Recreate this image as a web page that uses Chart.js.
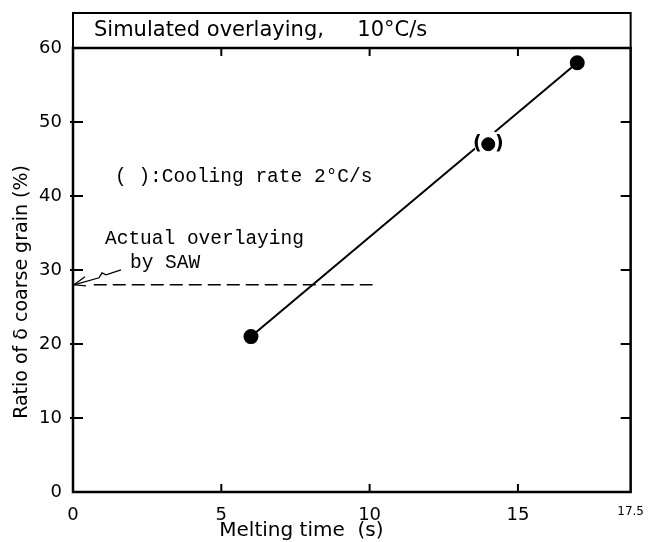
<!DOCTYPE html>
<html>
<head>
<meta charset="utf-8">
<script src="https://cdn.jsdelivr.net/npm/chart.js@4"></script>
<style>
  html, body { margin: 0; padding: 0; background: #fff; }
  canvas { display: block; }
</style>
</head>
<body>
<canvas id="chart" width="649" height="542"></canvas>
<script>
// data
const meltingTime = [6, 17];
const coarseRatio = [21, 58];
const slowCoolTime = [14];      // cooling rate 2 C/s, shown in ( )
const slowCoolRatio = [47];
const sawRatio = 28;            // actual overlaying by SAW
const sawTimeRange = [0.7, 10.1];

const yTicks = [0, 10, 20, 30, 40, 50, 60];
const xTicks = [0, 5, 10, 15, 18.8];
const xTickLabels = ["0", "5", "10", "15", "17.5"];

const titleText = "Simulated overlaying,     10\u00b0C/s";
const noteText = "( ):Cooling rate 2\u00b0C/s";
const sawText = ["Actual overlaying", "by SAW"];
const xTitle = "Melting time  (s)";
const yTitle = "Ratio of \u03b4 coarse grain (%)";

const sansFont = "'DejaVu Sans', sans-serif";
const monoFont = "'Liberation Mono', monospace";

const frameAndNotes = {
  id: "frameAndNotes",
  afterDatasetDraw(chart, args) {
    // clear a little gap in the line around the bracketed point
    if (args.index !== 0) return;
    const { ctx, scales } = chart;
    ctx.save();
    ctx.fillStyle = "#fff";
    slowCoolTime.forEach((t, i) => {
      ctx.beginPath();
      ctx.arc(scales.x.getPixelForValue(t), scales.y.getPixelForValue(slowCoolRatio[i]), 14, 0, Math.PI * 2);
      ctx.fill();
    });
    ctx.restore();
  },
  afterDatasetsDraw(chart) {
    const { ctx, chartArea: a, scales } = chart;
    const xs = scales.x, ys = scales.y;
    ctx.save();
    ctx.strokeStyle = "#000";
    ctx.fillStyle = "#000";

    // frame
    ctx.lineWidth = 2.5;
    ctx.strokeRect(a.left, a.top, a.right - a.left, a.bottom - a.top);

    // title box above the plot
    ctx.lineWidth = 2;
    ctx.strokeRect(a.left, 13, a.right - a.left, a.top - 13);
    ctx.font = "21px " + sansFont;
    ctx.textBaseline = "middle";
    ctx.textAlign = "left";
    ctx.fillText(titleText, a.left + 21, 31);

    // inward ticks
    ctx.lineWidth = 2;
    ctx.beginPath();
    xTicks.slice(1, -1).forEach(v => {
      const px = xs.getPixelForValue(v);
      ctx.moveTo(px, a.bottom); ctx.lineTo(px, a.bottom - 8);
      ctx.moveTo(px, a.top); ctx.lineTo(px, a.top + 8);
    });
    yTicks.slice(1, -1).forEach(v => {
      const py = ys.getPixelForValue(v);
      ctx.moveTo(a.left - 3, py); ctx.lineTo(a.left + 10, py);
      ctx.moveTo(a.right, py); ctx.lineTo(a.right - 10, py);
    });
    ctx.stroke();

    // brackets round the 2 C/s point
    ctx.font = "bold 19px " + sansFont;
    ctx.textAlign = "center";
    slowCoolTime.forEach((t, i) => {
      const px = xs.getPixelForValue(t), py = ys.getPixelForValue(slowCoolRatio[i]);
      ctx.fillText("(", px - 11, py);
      ctx.fillText(")", px + 11, py);
    });

    // notes
    ctx.font = "19.5px " + monoFont;
    ctx.textAlign = "left";
    ctx.fillText(noteText, 115, 177);
    ctx.fillText(sawText[0], 105, 239);
    ctx.fillText(sawText[1], 130, 263);

    // zigzag arrow onto the y axis at the SAW level
    const tx = xs.getPixelForValue(0), ty = ys.getPixelForValue(sawRatio);
    ctx.lineWidth = 1.3;
    ctx.beginPath();
    ctx.moveTo(tx + 48, ty - 15);
    ctx.lineTo(tx + 33, ty - 10);
    ctx.lineTo(tx + 29, ty - 12);
    ctx.lineTo(tx + 26, ty - 7);
    ctx.lineTo(tx + 1, ty);
    ctx.stroke();
    ctx.beginPath();
    ctx.moveTo(tx + 12, ty - 8);
    ctx.lineTo(tx + 1, ty);
    ctx.lineTo(tx + 13, ty + 1);
    ctx.stroke();

    // axis titles
    ctx.font = "20px " + sansFont;
    ctx.textAlign = "center";
    ctx.fillText(xTitle, xs.getPixelForValue(7.7), 531);
    ctx.font = "19px " + sansFont;
    ctx.translate(22, 292);
    ctx.rotate(-Math.PI / 2);
    ctx.fillText(yTitle, 0, 0);
    ctx.restore();
  }
};

const ctx = document.getElementById("chart").getContext("2d");

new Chart(ctx, {
  type: "scatter",
  data: {
    datasets: [
      {
        label: "10 C/s",
        data: meltingTime.map((t, i) => ({ x: t, y: coarseRatio[i] })),
        showLine: true,
        borderColor: "#000",
        borderWidth: 2,
        pointRadius: 6.5,
        pointBackgroundColor: "#000",
        pointBorderColor: "#000",
        order: 2,
      },
      {
        label: "2 C/s",
        data: slowCoolTime.map((t, i) => ({ x: t, y: slowCoolRatio[i] })),
        pointRadius: 6.5,
        pointBackgroundColor: "#000",
        pointBorderColor: "#000",
        order: 1,
      },
      {
        label: "SAW",
        data: sawTimeRange.map(t => ({ x: t, y: sawRatio })),
        showLine: true,
        borderColor: "#000",
        borderWidth: 1.5,
        borderDash: [13, 6],
        pointRadius: 0,
        order: 3,
      },
    ],
  },
  options: {
    responsive: false,
    animation: false,
    layout: { padding: { left: 0, top: 48, right: 18, bottom: 0 } },
    plugins: {
      legend: { display: false },
      tooltip: { enabled: false },
    },
    scales: {
      x: {
        type: "linear",
        min: 0,
        max: xTicks[xTicks.length - 1],
        afterBuildTicks: (scale) => {
          scale.ticks = xTicks.map(v => ({ value: v }));
        },
        afterFit: (scale) => { scale.height = 50; },
        grid: { display: false },
        border: { display: false },
        ticks: {
          autoSkip: false,
          maxRotation: 0,
          padding: 5,
          color: "#000",
          font: (c) => ({
            family: sansFont,
            size: c.index === xTicks.length - 1 ? 12 : 18,
          }),
          callback: (value, index) => xTickLabels[index],
        },
      },
      y: {
        type: "linear",
        min: 0,
        max: 60,
        afterBuildTicks: (scale) => {
          scale.ticks = yTicks.map(v => ({ value: v }));
        },
        afterFit: (scale) => { scale.width = 73; },
        grid: { display: false },
        border: { display: false },
        ticks: {
          padding: 3,
          color: "#000",
          font: { family: sansFont, size: 18 },
        },
      },
    },
  },
  plugins: [frameAndNotes],
});
</script>
</body>
</html>
